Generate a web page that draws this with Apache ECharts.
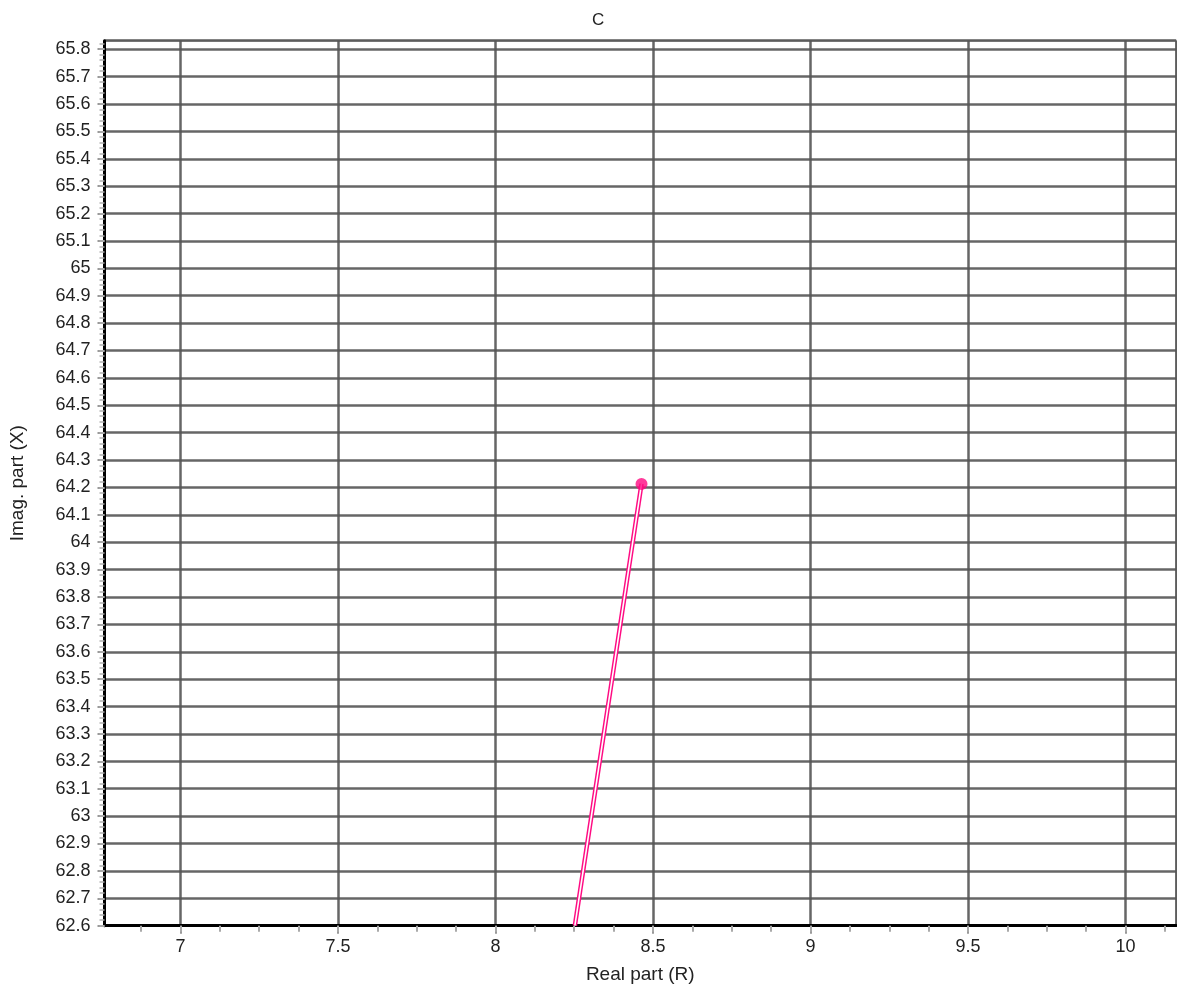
<!DOCTYPE html>
<html>
<head>
<meta charset="utf-8">
<script src="https://cdn.jsdelivr.net/npm/echarts@6/dist/echarts.min.js"></script>
<style>
html,body{margin:0;padding:0;background:#fff;}
#chart{width:1177px;height:994px;}
</style>
</head>
<body>
<div id="chart"></div>
<script>
// ---- data ----
const chartTitle = 'C';
const xAxisName = 'Real part (R)';
const yAxisName = 'Imag. part (X)';
const xRange = [6.759, 10.16];
const yRange = [62.6, 65.831];
// locus line (visible part) and its end point
const locusR = [8.252, 8.4635];
const locusX = [62.6, 64.213];
const endPoint = [8.4635, 64.213];

// minor tick steps (axis decorations)
const xMinorStep = 0.125;
const yMinorStep = 0.02;

function tickValues(lo, hi, step) {
  const out = [];
  const start = Math.ceil(lo / step - 1e-9);
  for (let k = start; k * step <= hi + 1e-9; k++) out.push(+(k * step).toFixed(4));
  return out;
}

const lineData = locusR.map((r, i) => [r, locusX[i]]);
const font = 'Liberation Sans, Arial, sans-serif';
const pink = '#ff0a82';
const W = 1177, H = 994;
const G = {left: 104.5, right: 1, top: 40.7, bottom: 68.3};
const gridW = W - G.left - G.right;
const gridH = H - G.top - G.bottom;

const hiddenParts = {
  axisLine: {show: false}, axisLabel: {show: false},
  splitLine: {show: false}, minorTick: {show: false}
};

const chart = echarts.init(document.getElementById('chart'), null, {renderer: 'canvas'});
chart.setOption({
  animation: false,
  backgroundColor: '#fff',
  title: {
    text: chartTitle, left: 587, top: 7,
    textStyle: {fontFamily: font, fontSize: 17, fontWeight: 'normal', color: '#222'}
  },
  grid: {
    left: G.left, right: G.right, top: G.top, bottom: G.bottom,
    show: true, borderColor: '#a0a0a0', borderWidth: 2, backgroundColor: 'transparent'
  },
  xAxis: [{
    type: 'value', min: xRange[0], max: xRange[1], splitNumber: 6,
    name: xAxisName, nameLocation: 'middle', nameGap: 40,
    nameTextStyle: {fontFamily: font, fontSize: 19, color: '#222'},
    axisLine: {show: true, onZero: false, lineStyle: {color: '#000', width: 3}},
    axisTick: {show: true, length: 8, lineStyle: {color: '#999', width: 2}},
    axisLabel: {fontFamily: font, fontSize: 18, color: '#222', margin: 12,
      showMinLabel: false, showMaxLabel: false},
    splitLine: {show: true, lineStyle: {color: '#555', width: 2.5, opacity: 0.9}}
  }, Object.assign({
    type: 'value', min: xRange[0], max: xRange[1], position: 'top', offset: -gridH,
    axisTick: {show: true, inside: true, length: 6, customValues: tickValues(xRange[0], xRange[1], xMinorStep),
      lineStyle: {color: '#aaa', width: 2}}
  }, hiddenParts)],
  yAxis: [{
    type: 'value', min: yRange[0], max: yRange[1], interval: 0.1,
    name: yAxisName, nameLocation: 'middle', nameGap: 77, nameRotate: 90,
    nameTextStyle: {fontFamily: font, fontSize: 19, color: '#222'},
    axisLine: {show: true, onZero: false, lineStyle: {color: '#000', width: 3}},
    axisTick: {show: true, length: 7, lineStyle: {color: '#999', width: 2}},
    axisLabel: {fontFamily: font, fontSize: 18, color: '#222', margin: 14,
      showMaxLabel: false},
    splitLine: {show: true, lineStyle: {color: '#555', width: 2.5, opacity: 0.9}}
  }, Object.assign({
    type: 'value', min: yRange[0], max: yRange[1], position: 'right', offset: -gridW,
    axisTick: {show: true, inside: true, length: 5, customValues: tickValues(yRange[0], yRange[1], yMinorStep),
      lineStyle: {color: '#b0b0b0', width: 1.5}}
  }, hiddenParts)],
  series: [
    {
      type: 'line', data: lineData, showSymbol: false, symbol: 'none', z: 3,
      lineStyle: {color: pink, width: 4.5}, clip: true
    },
    {
      type: 'line', data: lineData, showSymbol: false, symbol: 'none', z: 4,
      lineStyle: {color: '#fff', width: 1.6}, clip: true
    },
    {
      type: 'scatter', data: [endPoint], symbol: 'circle', symbolSize: 12, z: 5,
      itemStyle: {color: pink}
    }
  ]
});
</script>
</body>
</html>
